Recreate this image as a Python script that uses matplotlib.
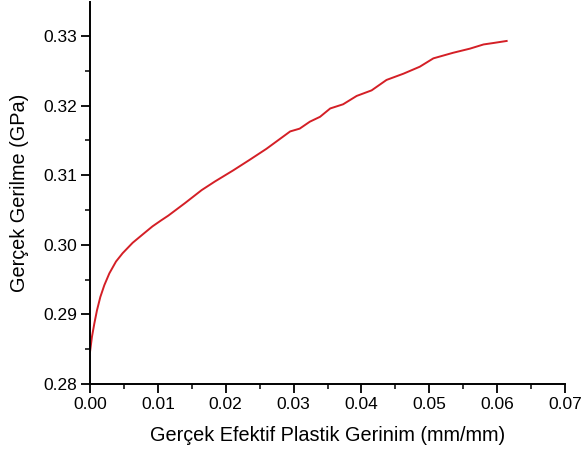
import matplotlib
matplotlib.use("Agg")
import matplotlib.pyplot as plt
from matplotlib.ticker import MultipleLocator, FormatStrFormatter

strain = [0.0, 0.00029, 0.00064, 0.00103, 0.00152, 0.00211, 0.00285, 0.00383,
          0.00481, 0.00629, 0.00777, 0.00920, 0.01046, 0.01154, 0.0140,
          0.01646, 0.0184, 0.0211, 0.0235, 0.0260, 0.0295, 0.0309, 0.0324,
          0.0339, 0.0354, 0.0373, 0.0393, 0.0415, 0.0437, 0.0462, 0.0486,
          0.0506, 0.0535, 0.0560, 0.0580, 0.0594, 0.0614]
stress = [0.2846, 0.2868, 0.2887, 0.2906, 0.2925, 0.2942, 0.2959, 0.2976,
          0.2988, 0.3003, 0.3015, 0.30265, 0.3035, 0.3042, 0.3060,
          0.30787, 0.3091, 0.3107, 0.3122, 0.3138, 0.3163, 0.3167, 0.3177,
          0.3184, 0.3196, 0.3202, 0.3214, 0.3222, 0.3237, 0.3246, 0.3256,
          0.3268, 0.3276, 0.3282, 0.3288, 0.3290, 0.3293]

xlabel = "Gerçek Efektif Plastik Gerinim (mm/mm)"
ylabel = "Gerçek Gerilme (GPa)"

plt.rcParams['font.family'] = ['Liberation Sans', 'DejaVu Sans']

fig = plt.figure(figsize=(5.81, 4.53), dpi=100)
ax = fig.add_axes([90/581, 69/453, 475/581, 382/453])
ax.plot(strain, stress, color='#d41f26', lw=1.4)
ax.set_xlim(0, 0.07)
ax.set_ylim(0.28, 0.3349)
ax.xaxis.set_major_locator(MultipleLocator(0.01))
ax.xaxis.set_minor_locator(MultipleLocator(0.005))
ax.yaxis.set_major_locator(MultipleLocator(0.01))
ax.yaxis.set_minor_locator(MultipleLocator(0.005))
ax.xaxis.set_major_formatter(FormatStrFormatter('%.2f'))
ax.yaxis.set_major_formatter(FormatStrFormatter('%.2f'))
for s in ['top', 'right']:
    ax.spines[s].set_visible(False)
for s in ['left', 'bottom']:
    ax.spines[s].set_linewidth(1.4)
ax.tick_params(which='major', direction='out', length=6.5, width=1.3, labelsize=12.5, pad=3)
ax.tick_params(which='minor', direction='out', length=3.5, width=1.1)
ax.set_xlabel(xlabel, fontsize=14.3, labelpad=10)
ax.set_ylabel(ylabel, fontsize=14.3, labelpad=10)
fig.savefig('out.png', dpi=100)
